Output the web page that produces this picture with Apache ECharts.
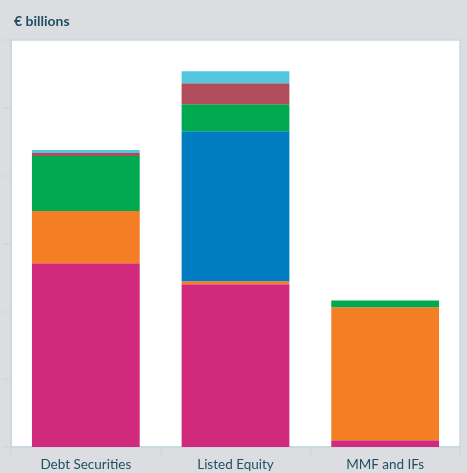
<!DOCTYPE html>
<html><head><meta charset="utf-8">
<script src="https://cdn.jsdelivr.net/npm/echarts@6/dist/echarts.min.js"></script>
<style>html,body{margin:0;padding:0;background:#dcdde0;}#c{width:467px;height:473px;}</style>
</head><body><div id="c"></div>
<script>
const categories = ["Debt Securities", "Listed Equity", "MMF and IFs"];
const pinkVals = [271, 240, 10];
const orangeVals = [77, 4.4, 196];
const blueVals = [0, 221, 0];
const greenVals = [81, 40, 10];
const redVals = [4.4, 31, 0];
const lightBlueVals = [4.4, 17.7, 0];

const seriesDefs = [
  {name: "s1", data: pinkVals, color: "#d12a7c"},
  {name: "s2", data: orangeVals, color: "#f47e23"},
  {name: "s3", data: blueVals, color: "#007cc3"},
  {name: "s4", data: greenVals, color: "#00a94f"},
  {name: "s5", data: redVals, color: "#b14d5a"},
  {name: "s6", data: lightBlueVals, color: "#55c6e0"}
];
const axisCol = "#c9d9df";
const textCol = "#1f4f63";
const chart = echarts.init(document.getElementById('c'));
chart.setOption({
  backgroundColor: "#dcdde0",
  animation: false,
  title: {text: "€ billions", left: 9, top: 9, textStyle: {fontFamily: "Lato", fontSize: 14, fontWeight: "bold", color: textCol}},
  grid: {left: 11, right: 7, top: 40, bottom: 26, show: true, backgroundColor: "#ffffff", borderColor: axisCol, borderWidth: 1.5},
  xAxis: {
    type: "category", data: categories,
    axisLine: {lineStyle: {color: axisCol, width: 2}},
    axisTick: {show: true, length: 8, lineStyle: {color: axisCol, width: 1.5}},
    axisLabel: {fontFamily: "Lato", fontSize: 13.5, color: textCol, margin: 11}
  },
  yAxis: {
    type: "value", min: 0, max: 600, interval: 100,
    axisLine: {show: true, lineStyle: {color: axisCol, width: 2}},
    axisTick: {show: true, length: 8, lineStyle: {color: axisCol, width: 1.5}},
    axisLabel: {show: false},
    splitLine: {show: false}
  },
  series: seriesDefs.map(s => ({
    name: s.name, type: "bar", stack: "total", data: s.data,
    barWidth: "72%", itemStyle: {color: s.color}
  }))
});
</script></body></html>
